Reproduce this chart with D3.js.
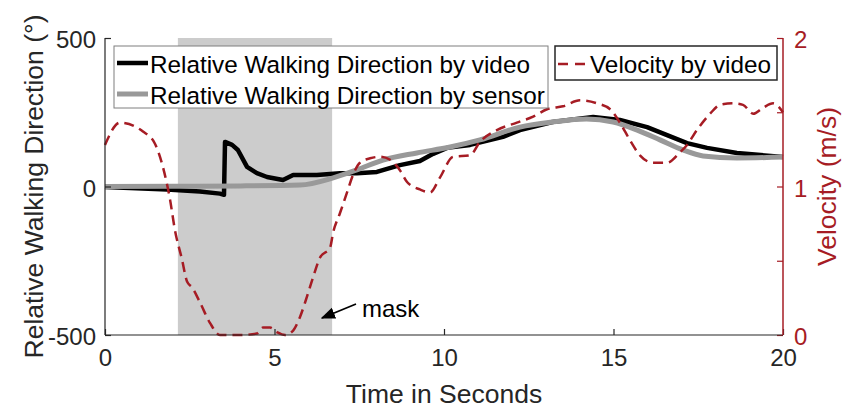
<!DOCTYPE html>
<html><head><meta charset="utf-8">
<script src="https://cdn.jsdelivr.net/npm/d3@7"></script>
<style>body{margin:0;background:#fff}svg{display:block;font-family:"Liberation Sans",Arial,sans-serif}</style>
</head><body><svg id="c" width="846" height="411"></svg>
<script>
// ---- data ----
const xTicks = [0, 5, 10, 15, 20];
const yLeftTicks = [-500, 0, 500];
const yRightTicks = [0, 0.5, 1, 1.5, 2];
const yRightLabels = ["0", "", "1", "", "2"];
const maskRange = [2.15, 6.7];
const seriesNames = ["Relative Walking Direction by video", "Relative Walking Direction by sensor", "Velocity by video"];

const videoT = [0, 1.83, 2.8, 3.39, 3.51, 3.54, 3.75, 3.92, 4.19, 4.48, 4.78, 5.25, 5.55, 6.25, 6.93, 7.43, 8.02, 8.7, 9.29, 9.68, 10.09, 10.77, 11.74, 12.24, 13.2, 14.4, 15.19, 15.99, 16.58, 17.17, 17.76, 18.64, 20];
const videoV = [-2, -10, -17, -24, -28, 150, 140, 123, 66, 45, 32, 22, 39, 39, 45, 45, 49, 72, 86, 110, 130, 140, 167, 190, 217, 234, 224, 200, 173, 146, 130, 113, 99];

const sensorT = [0, 2, 4, 5.75, 6.73, 7.43, 8.2, 9.2, 10.18, 11.06, 12.24, 13.2, 14.2, 14.99, 15.7, 16.37, 17.05, 17.64, 18.64, 20];
const sensorV = [0, 1, 2, 5, 29, 56, 89, 113, 133, 157, 200, 217, 227, 217, 190, 157, 123, 103, 96, 99];

const velT = [0, 0.44, 1.12, 1.47, 1.71, 1.92, 2.06, 2.27, 2.42, 2.57, 2.8, 3.1, 3.39, 3.98, 4.48, 4.66, 4.87, 5.07, 5.31, 5.55, 5.75, 5.96, 6.14, 6.34, 6.64, 6.73, 6.93, 7.14, 7.32, 7.52, 7.82, 8.11, 8.41, 8.7, 8.91, 9.29, 9.59, 9.88, 10.27, 10.77, 11.06, 11.56, 12.15, 12.63, 13.04, 13.51, 14.01, 14.51, 14.9, 15.19, 15.49, 15.78, 16.17, 16.58, 16.96, 17.17, 17.46, 17.85, 18.14, 18.53, 18.82, 19.12, 19.41, 19.71, 20];
const velV = [1.28, 1.43, 1.37, 1.29, 1.13, 0.91, 0.71, 0.51, 0.36, 0.32, 0.22, 0.08, 0.0, 0.0, 0.01, 0.05, 0.05, 0.02, 0.0, 0.03, 0.12, 0.26, 0.39, 0.52, 0.59, 0.69, 0.82, 0.96, 1.08, 1.16, 1.19, 1.2, 1.18, 1.11, 1.03, 0.98, 0.96, 1.06, 1.2, 1.21, 1.3, 1.38, 1.43, 1.47, 1.52, 1.54, 1.58, 1.56, 1.52, 1.43, 1.31, 1.21, 1.16, 1.16, 1.23, 1.28, 1.38, 1.49, 1.55, 1.56, 1.55, 1.49, 1.53, 1.56, 1.5];

// ---- layout ----
const L = 105, R = 783, T = 38, B = 335;
const DARK = "#262626", RED = "#a61c24";
const FONT = "Liberation Sans, Arial, sans-serif";
const svg = d3.select("#c");
const x = d3.scaleLinear().domain([0, 20]).range([L, R]);
const yL = d3.scaleLinear().domain([-500, 500]).range([B, T]);
const yR = d3.scaleLinear().domain([0, 2]).range([B, T]);

// mask
svg.append("rect").attr("x", x(maskRange[0])).attr("y", T)
  .attr("width", x(maskRange[1]) - x(maskRange[0])).attr("height", B - T).attr("fill", "#cccccc");

const toPts = (ts, vs) => ts.map((t, i) => [t, vs[i]]);
const lineL = d3.line().x(d => x(d[0])).y(d => yL(d[1]));
const lineLs = d3.line().x(d => x(d[0])).y(d => yL(d[1])).curve(d3.curveMonotoneX);
const lineR = d3.line().x(d => x(d[0])).y(d => yR(d[1])).curve(d3.curveMonotoneX);

svg.append("path").attr("d", lineL(toPts(videoT, videoV))).attr("fill", "none")
  .attr("stroke", "#000").attr("stroke-width", 4.5).attr("stroke-linejoin", "round");
svg.append("path").attr("d", lineLs(toPts(sensorT, sensorV))).attr("fill", "none")
  .attr("stroke", "#999999").attr("stroke-width", 5).attr("stroke-linejoin", "round");
svg.append("path").attr("d", lineR(toPts(velT, velV))).attr("fill", "none")
  .attr("stroke", RED).attr("stroke-width", 2.5).attr("stroke-dasharray", "10,6");

// axes
const fs = 24;
const intFmt = d => String(d);
const gB = svg.append("g").attr("transform", `translate(0,${B})`)
  .call(d3.axisBottom(x).tickValues(xTicks).tickSize(-6).tickPadding(14).tickFormat(intFmt));
const gL = svg.append("g").attr("transform", `translate(${L},0)`)
  .call(d3.axisLeft(yL).tickValues(yLeftTicks).tickSize(-6).tickPadding(9).tickFormat(intFmt));
const gR = svg.append("g").attr("transform", `translate(${R},0)`)
  .call(d3.axisRight(yR).tickValues(yRightTicks).tickSize(-6).tickPadding(11).tickFormat((d, i) => yRightLabels[i]));
[gB, gL].forEach(g => {
  g.select(".domain").remove();
  g.selectAll("line").attr("stroke", DARK).attr("stroke-width", 1.2);
  g.selectAll("text").attr("fill", DARK).attr("font-size", fs).attr("font-family", FONT);
});
gL.selectAll("text").attr("dy", "0.4em");
gR.select(".domain").remove();
gR.selectAll("line").attr("stroke", RED).attr("stroke-width", 1.2);
gR.selectAll("text").attr("fill", RED).attr("font-size", fs).attr("font-family", FONT).attr("dy", "0.4em");

svg.append("line").attr("x1", L).attr("x2", L).attr("y1", T).attr("y2", B).attr("stroke", DARK).attr("stroke-width", 1.2);
svg.append("line").attr("x1", L).attr("x2", R).attr("y1", B).attr("y2", B).attr("stroke", DARK).attr("stroke-width", 1.2);
svg.append("line").attr("x1", R).attr("x2", R).attr("y1", T).attr("y2", B).attr("stroke", RED).attr("stroke-width", 1.5);

// axis titles
const tfs = 26.5;
svg.append("text").attr("x", (L + R) / 2).attr("y", 403).attr("text-anchor", "middle")
  .attr("font-size", tfs).attr("fill", DARK).text("Time in Seconds");
svg.append("text").attr("transform", `translate(43,${(T + B) / 2}) rotate(-90)`).attr("text-anchor", "middle")
  .attr("font-size", tfs).attr("fill", DARK).text("Relative Walking Direction (°)");
svg.append("text").attr("transform", `translate(816,${(T + B) / 2}) rotate(-90)`).attr("text-anchor", "middle")
  .attr("dy", "0.75em").attr("font-size", tfs).attr("fill", RED).text("Velocity (m/s)");

// legend 1
const lfs = 24.3;
const lg1 = svg.append("g");
lg1.append("rect").attr("x", 114).attr("y", 46).attr("width", 434).attr("height", 62)
  .attr("fill", "#fff").attr("stroke", "#7f7f7f").attr("stroke-width", 1);
lg1.append("line").attr("x1", 117).attr("x2", 148).attr("y1", 63).attr("y2", 63).attr("stroke", "#000").attr("stroke-width", 4.5);
lg1.append("line").attr("x1", 117).attr("x2", 148).attr("y1", 94).attr("y2", 94).attr("stroke", "#999999").attr("stroke-width", 5);
lg1.append("text").attr("x", 150).attr("y", 73).attr("font-size", lfs).attr("fill", "#000").text(seriesNames[0]);
lg1.append("text").attr("x", 150).attr("y", 104).attr("font-size", lfs).attr("fill", "#000").text(seriesNames[1]);

// legend 2
const lg2 = svg.append("g");
lg2.append("rect").attr("x", 555).attr("y", 46).attr("width", 222).attr("height", 34)
  .attr("fill", "#fff").attr("stroke", "#262626").attr("stroke-width", 1.5);
lg2.append("line").attr("x1", 558).attr("x2", 589).attr("y1", 64).attr("y2", 64).attr("stroke", RED)
  .attr("stroke-width", 2.5).attr("stroke-dasharray", "10,7");
lg2.append("text").attr("x", 590).attr("y", 73).attr("font-size", lfs).attr("fill", "#000").text(seriesNames[2]);

// annotation
svg.append("defs").append("marker").attr("id", "ah").attr("viewBox", "0 0 10 10").attr("refX", 9).attr("refY", 5)
  .attr("markerWidth", 8).attr("markerHeight", 8).attr("orient", "auto")
  .append("path").attr("d", "M0,1 L10,5 L0,9 Z").attr("fill", "#000");
svg.append("line").attr("x1", 356).attr("y1", 304).attr("x2", 322).attr("y2", 318)
  .attr("stroke", "#000").attr("stroke-width", 1.8).attr("marker-end", "url(#ah)");
svg.append("text").attr("x", 362).attr("y", 317).attr("font-size", 24).attr("fill", "#000").text("mask");
</script></body></html>
